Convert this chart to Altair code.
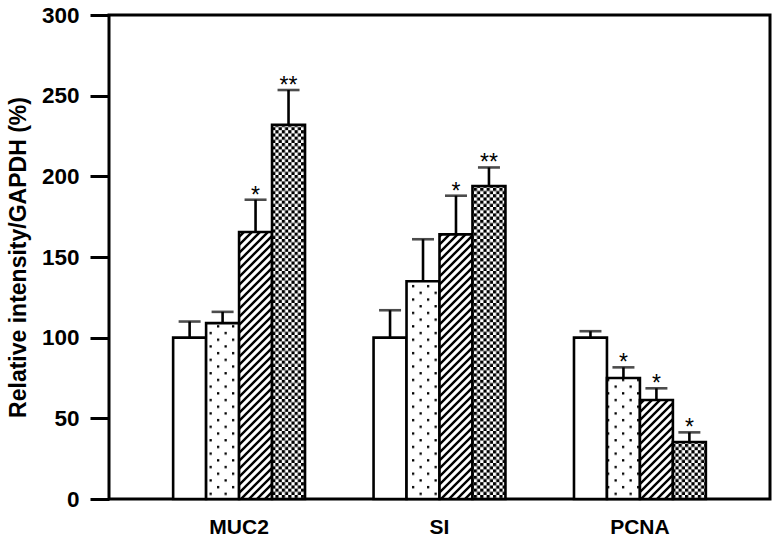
import altair as alt
import pandas as pd
import jinja2

# ---------------- data ----------------
categories = ["MUC2", "SI", "PCNA"]
groups = ["Group 1", "Group 2", "Group 3", "Group 4"]

muc2_mean = [100, 109, 165.5, 232]
muc2_sem = [10, 7, 20, 21.5]
muc2_sig = ["", "", "*", "**"]

si_mean = [100, 135, 164, 194]
si_sem = [17, 26, 24, 11.5]
si_sig = ["", "", "*", "**"]

pcna_mean = [100, 75, 61.4, 35.3]
pcna_sem = [4, 6.6, 7.2, 6]
pcna_sig = ["", "*", "*", "*"]

y_ticks = [0, 50, 100, 150, 200, 250, 300]

means = [muc2_mean, si_mean, pcna_mean]
sems = [muc2_sem, si_sem, pcna_sem]
sigs = [muc2_sig, si_sig, pcna_sig]

rows = []
for ci, cat in enumerate(categories):
    for gi, g in enumerate(groups):
        rows.append({"gene": cat, "group": g, "mean": means[ci][gi],
                     "sem": sems[ci][gi], "sig": sigs[ci][gi]})
df = pd.DataFrame(rows)

fills = ["white", "url(#dots)", "url(#hatch)", "url(#checker)"]
FONT = "Liberation Sans"

x_enc = alt.X("gene:N", sort=categories, title=None,
              scale=alt.Scale(paddingInner=0.342, paddingOuter=0.32),
              axis=alt.Axis(labelAngle=0, domain=False, ticks=False,
                            labelPadding=17, labelFontSize=21,
                            labelFontWeight="bold", labelColor="black",
                            labelFont=FONT))
xo_enc = alt.XOffset("group:N", sort=groups)

base = alt.Chart(df).transform_calculate(upper="datum.mean + datum.sem")

y_scale = alt.Scale(domain=[0, 300], nice=False)

bars = base.mark_bar(stroke="black", strokeWidth=2.6).encode(
    x=x_enc,
    xOffset=xo_enc,
    y=alt.Y("mean:Q", scale=y_scale, title="Relative intensity/GAPDH (%)",
            axis=alt.Axis(values=y_ticks, domain=False, grid=False,
                          tickSize=19, tickWidth=3, tickColor="black",
                          labelPadding=11, labelFontSize=22.5,
                          labelFontWeight="bold", labelColor="black",
                          labelFont=FONT, titleFont=FONT, titleFontSize=23,
                          titleFontWeight="bold", titleColor="black",
                          titleX=-90.5, titleY=242, titleBaseline="middle",
                          titleAngle=270)),
    fill=alt.Fill("group:N", scale=alt.Scale(domain=groups, range=fills),
                  legend=None),
)

err = base.mark_rule(color="black", strokeWidth=2.6).encode(
    x=alt.X("gene:N", sort=categories),
    xOffset=xo_enc,
    y=alt.Y("mean:Q", scale=y_scale),
    y2="upper:Q",
)

caps = base.mark_tick(color="black", size=22, thickness=2.6).encode(
    x=alt.X("gene:N", sort=categories),
    xOffset=xo_enc,
    y=alt.Y("upper:Q", scale=y_scale),
)

stars = base.mark_text(font=FONT, fontSize=23, color="black",
                       baseline="alphabetic", dy=3).encode(
    x=alt.X("gene:N", sort=categories),
    xOffset=xo_enc,
    y=alt.Y("upper:Q", scale=y_scale),
    text="sig:N",
)

chart = alt.layer(bars, err, caps, stars).properties(
    width=661, height=484,
    autosize=alt.AutoSizeParams(type="none"),
    padding={"left": 109, "top": 15, "right": 5, "bottom": 45},
).configure_view(stroke="black", strokeWidth=3).configure_axis(
    labelFont=FONT, titleFont=FONT)

PATTERNS = """<svg width="0" height="0" style="position:absolute;left:0;top:0">
<defs>
<pattern id="dots" patternUnits="userSpaceOnUse" x="0" y="0" width="15" height="13.4">
<rect x="0" y="0" width="15" height="13.4" fill="white"/>
<rect x="3" y="2" width="2.3" height="2.3" fill="black"/>
<rect x="10.5" y="8.7" width="2.3" height="2.3" fill="black"/>
</pattern>
<pattern id="hatch" patternUnits="userSpaceOnUse" x="0" y="0" width="8" height="8">
<rect x="0" y="0" width="8" height="8" fill="white"/>
<path d="M-2,2 L2,-2 M0,8 L8,0 M6,10 L10,6" stroke="black" stroke-width="2.4"/>
</pattern>
<pattern id="checker" patternUnits="userSpaceOnUse" x="0" y="0" width="6.4" height="6.4">
<rect x="0" y="0" width="6.4" height="6.4" fill="white"/>
<rect x="0" y="0" width="3.2" height="3.2" fill="black"/>
<rect x="3.2" y="3.2" width="3.2" height="3.2" fill="black"/>
</pattern>
</defs>
</svg>"""

TEMPLATE = """<!DOCTYPE html>
<html>
<head>
  <meta charset="utf-8">
  <style>
    body { margin: 0; }
    #{{ output_div }}.vega-embed { width: 100%; display: flex; }
    #{{ output_div }}.vega-embed details,
    #{{ output_div }}.vega-embed details summary { position: relative; }
  </style>
  <script type="text/javascript" src="{{ base_url }}/vega@{{ vega_version }}"></script>
  <script type="text/javascript" src="{{ base_url }}/vega-lite@{{ vegalite_version }}"></script>
  <script type="text/javascript" src="{{ base_url }}/vega-embed@{{ vegaembed_version }}"></script>
</head>
<body>
""" + PATTERNS + """
  <div id="{{ output_div }}"></div>
  <script>
    (function(vegaEmbed) {
      var spec = {{ spec }};
      var embedOpt = {{ embed_options }};
      const el = document.getElementById('{{ output_div }}');
      vegaEmbed("#{{ output_div }}", spec, embedOpt).catch(function(error) {
        el.innerHTML = '<div style="color:red;">' + error.message + '</div>';
      });
    })(vegaEmbed);
  </script>
</body>
</html>
"""

try:
    chart.save("out.html", embed_options={"renderer": "svg", "actions": False},
               template=jinja2.Template(TEMPLATE))
except Exception:
    chart.save("out.html", embed_options={"renderer": "svg", "actions": False})
